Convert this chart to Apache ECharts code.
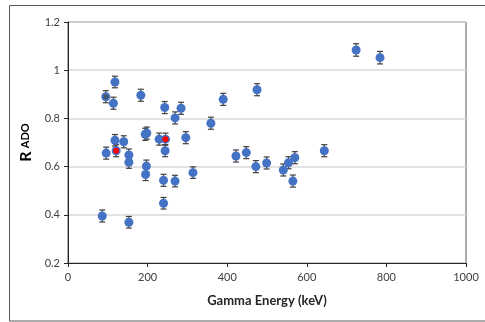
<!DOCTYPE html>
<html>
<head>
<meta charset="utf-8">
<script src="https://cdn.jsdelivr.net/npm/echarts@6/dist/echarts.min.js"></script>
<style>
  html, body { margin: 0; padding: 0; background: #fff; }
  #main { width: 485px; height: 322px; }
</style>
</head>
<body>
<div id="main"></div>
<script>
// gamma energies (keV) and R_ADO values
var energy = [86, 95, 96, 114, 118, 118, 121, 140, 153, 153, 153, 183, 194, 198, 197, 195,
    229, 240, 240, 243, 244, 245, 269, 269, 284, 296, 314, 359, 390, 422, 448, 472, 475,
    499, 541, 554, 565, 570, 644, 724, 784];
var rado = [0.395, 0.890, 0.656, 0.863, 0.951, 0.709, 0.666, 0.703, 0.648, 0.618, 0.369, 0.896,
    0.734, 0.739, 0.602, 0.567, 0.714, 0.543, 0.448, 0.845, 0.666, 0.714, 0.802, 0.540, 0.842,
    0.720, 0.575, 0.780, 0.879, 0.644, 0.658, 0.600, 0.919, 0.615, 0.586, 0.616, 0.540, 0.637,
    0.666, 1.084, 1.052];
var radoErr = [0.025, 0.025, 0.025, 0.025, 0.024, 0.024, 0.025, 0.025, 0.025, 0.025, 0.024, 0.025,
    0.025, 0.025, 0.025, 0.025, 0.025, 0.025, 0.024, 0.025, 0.025, 0.025, 0.025, 0.024, 0.025,
    0.025, 0.024, 0.025, 0.025, 0.025, 0.025, 0.025, 0.025, 0.025, 0.025, 0.025, 0.025, 0.025,
    0.025, 0.026, 0.026];
// highlighted points
var redEnergy = [121, 245];
var redRado = [0.666, 0.714];
var grayEnergy = [95];
var grayRado = [0.890];

var blueData = energy.map(function (e, i) { return [e, rado[i]]; });
var errData = energy.map(function (e, i) { return [e, rado[i], radoErr[i]]; });
var redData = redEnergy.map(function (e, i) { return [e, redRado[i]]; });
var grayData = grayEnergy.map(function (e, i) { return [e, grayRado[i]]; });

var chart = echarts.init(document.getElementById('main'));
var font = 'Lato, "Liberation Sans", sans-serif';

var option = {
    backgroundColor: '#fff',
    animation: false,
    graphic: [{
        type: 'rect',
        shape: { x: 9.5, y: 5.5, width: 490, height: 315.5 },
        style: { fill: 'none', stroke: '#595959', lineWidth: 1 },
        silent: true
    }],
    grid: {
        left: 68, right: 19, top: 22, bottom: 59,
        show: true, borderColor: '#595959', borderWidth: 1
    },
    xAxis: {
        type: 'value', min: 0, max: 1000, interval: 200,
        name: 'Gamma Energy (keV)', nameLocation: 'middle', nameGap: 31,
        nameTextStyle: { fontFamily: font, fontWeight: 'bold', fontSize: 13, color: '#262626' },
        axisLine: { lineStyle: { color: '#262626', width: 1 } },
        axisTick: { show: true, length: 4, lineStyle: { color: '#262626' } },
        axisLabel: {
            fontFamily: font, fontSize: 11, color: '#404040', margin: 9,
            formatter: function (v) { return String(v); }
        },
        splitLine: { show: false }
    },
    yAxis: {
        type: 'value', min: 0.2, max: 1.2, interval: 0.2,
        name: '{r|R} {s|ADO}', nameLocation: 'middle', nameGap: 33,
        nameTextStyle: {
            rich: {
                r: { fontFamily: font, fontWeight: 'bold', fontSize: 16, color: '#000' },
                s: { fontFamily: font, fontWeight: 'bold', fontSize: 11, color: '#000' }
            }
        },
        axisLine: { show: true, lineStyle: { color: '#262626', width: 1 } },
        axisTick: { show: true, length: 4, lineStyle: { color: '#262626' } },
        axisLabel: {
            fontFamily: font, fontSize: 11, color: '#404040', margin: 8,
            formatter: function (v) { return String(Math.round(v * 10) / 10); }
        },
        splitLine: { show: true, lineStyle: { color: '#d9d9d9', width: 1.5 } }
    },
    series: [
        {
            type: 'custom',
            data: errData,
            z: 2,
            renderItem: function (params, api) {
                var x = api.value(0), y = api.value(1), e = api.value(2);
                var top = api.coord([x, y + e]);
                var bot = api.coord([x, y - e]);
                var hw = 3;
                var st = { stroke: '#404040', lineWidth: 1.2 };
                return {
                    type: 'group',
                    children: [
                        { type: 'line', shape: { x1: top[0], y1: top[1], x2: bot[0], y2: bot[1] }, style: st },
                        { type: 'line', shape: { x1: top[0] - hw, y1: top[1], x2: top[0] + hw, y2: top[1] }, style: st },
                        { type: 'line', shape: { x1: bot[0] - hw, y1: bot[1], x2: bot[0] + hw, y2: bot[1] }, style: st }
                    ]
                };
            }
        },
        {
            type: 'scatter',
            data: blueData,
            symbolSize: 9,
            z: 3,
            itemStyle: { color: '#4472c4', opacity: 1 }
        },
        {
            type: 'scatter',
            data: grayData,
            symbolSize: 5,
            z: 4,
            itemStyle: { color: '#44546a', opacity: 1 }
        },
        {
            type: 'scatter',
            data: redData,
            symbolSize: 6,
            z: 4,
            itemStyle: { color: '#ff0000', opacity: 1 }
        }
    ]
};

chart.setOption(option);
</script>
</body>
</html>
